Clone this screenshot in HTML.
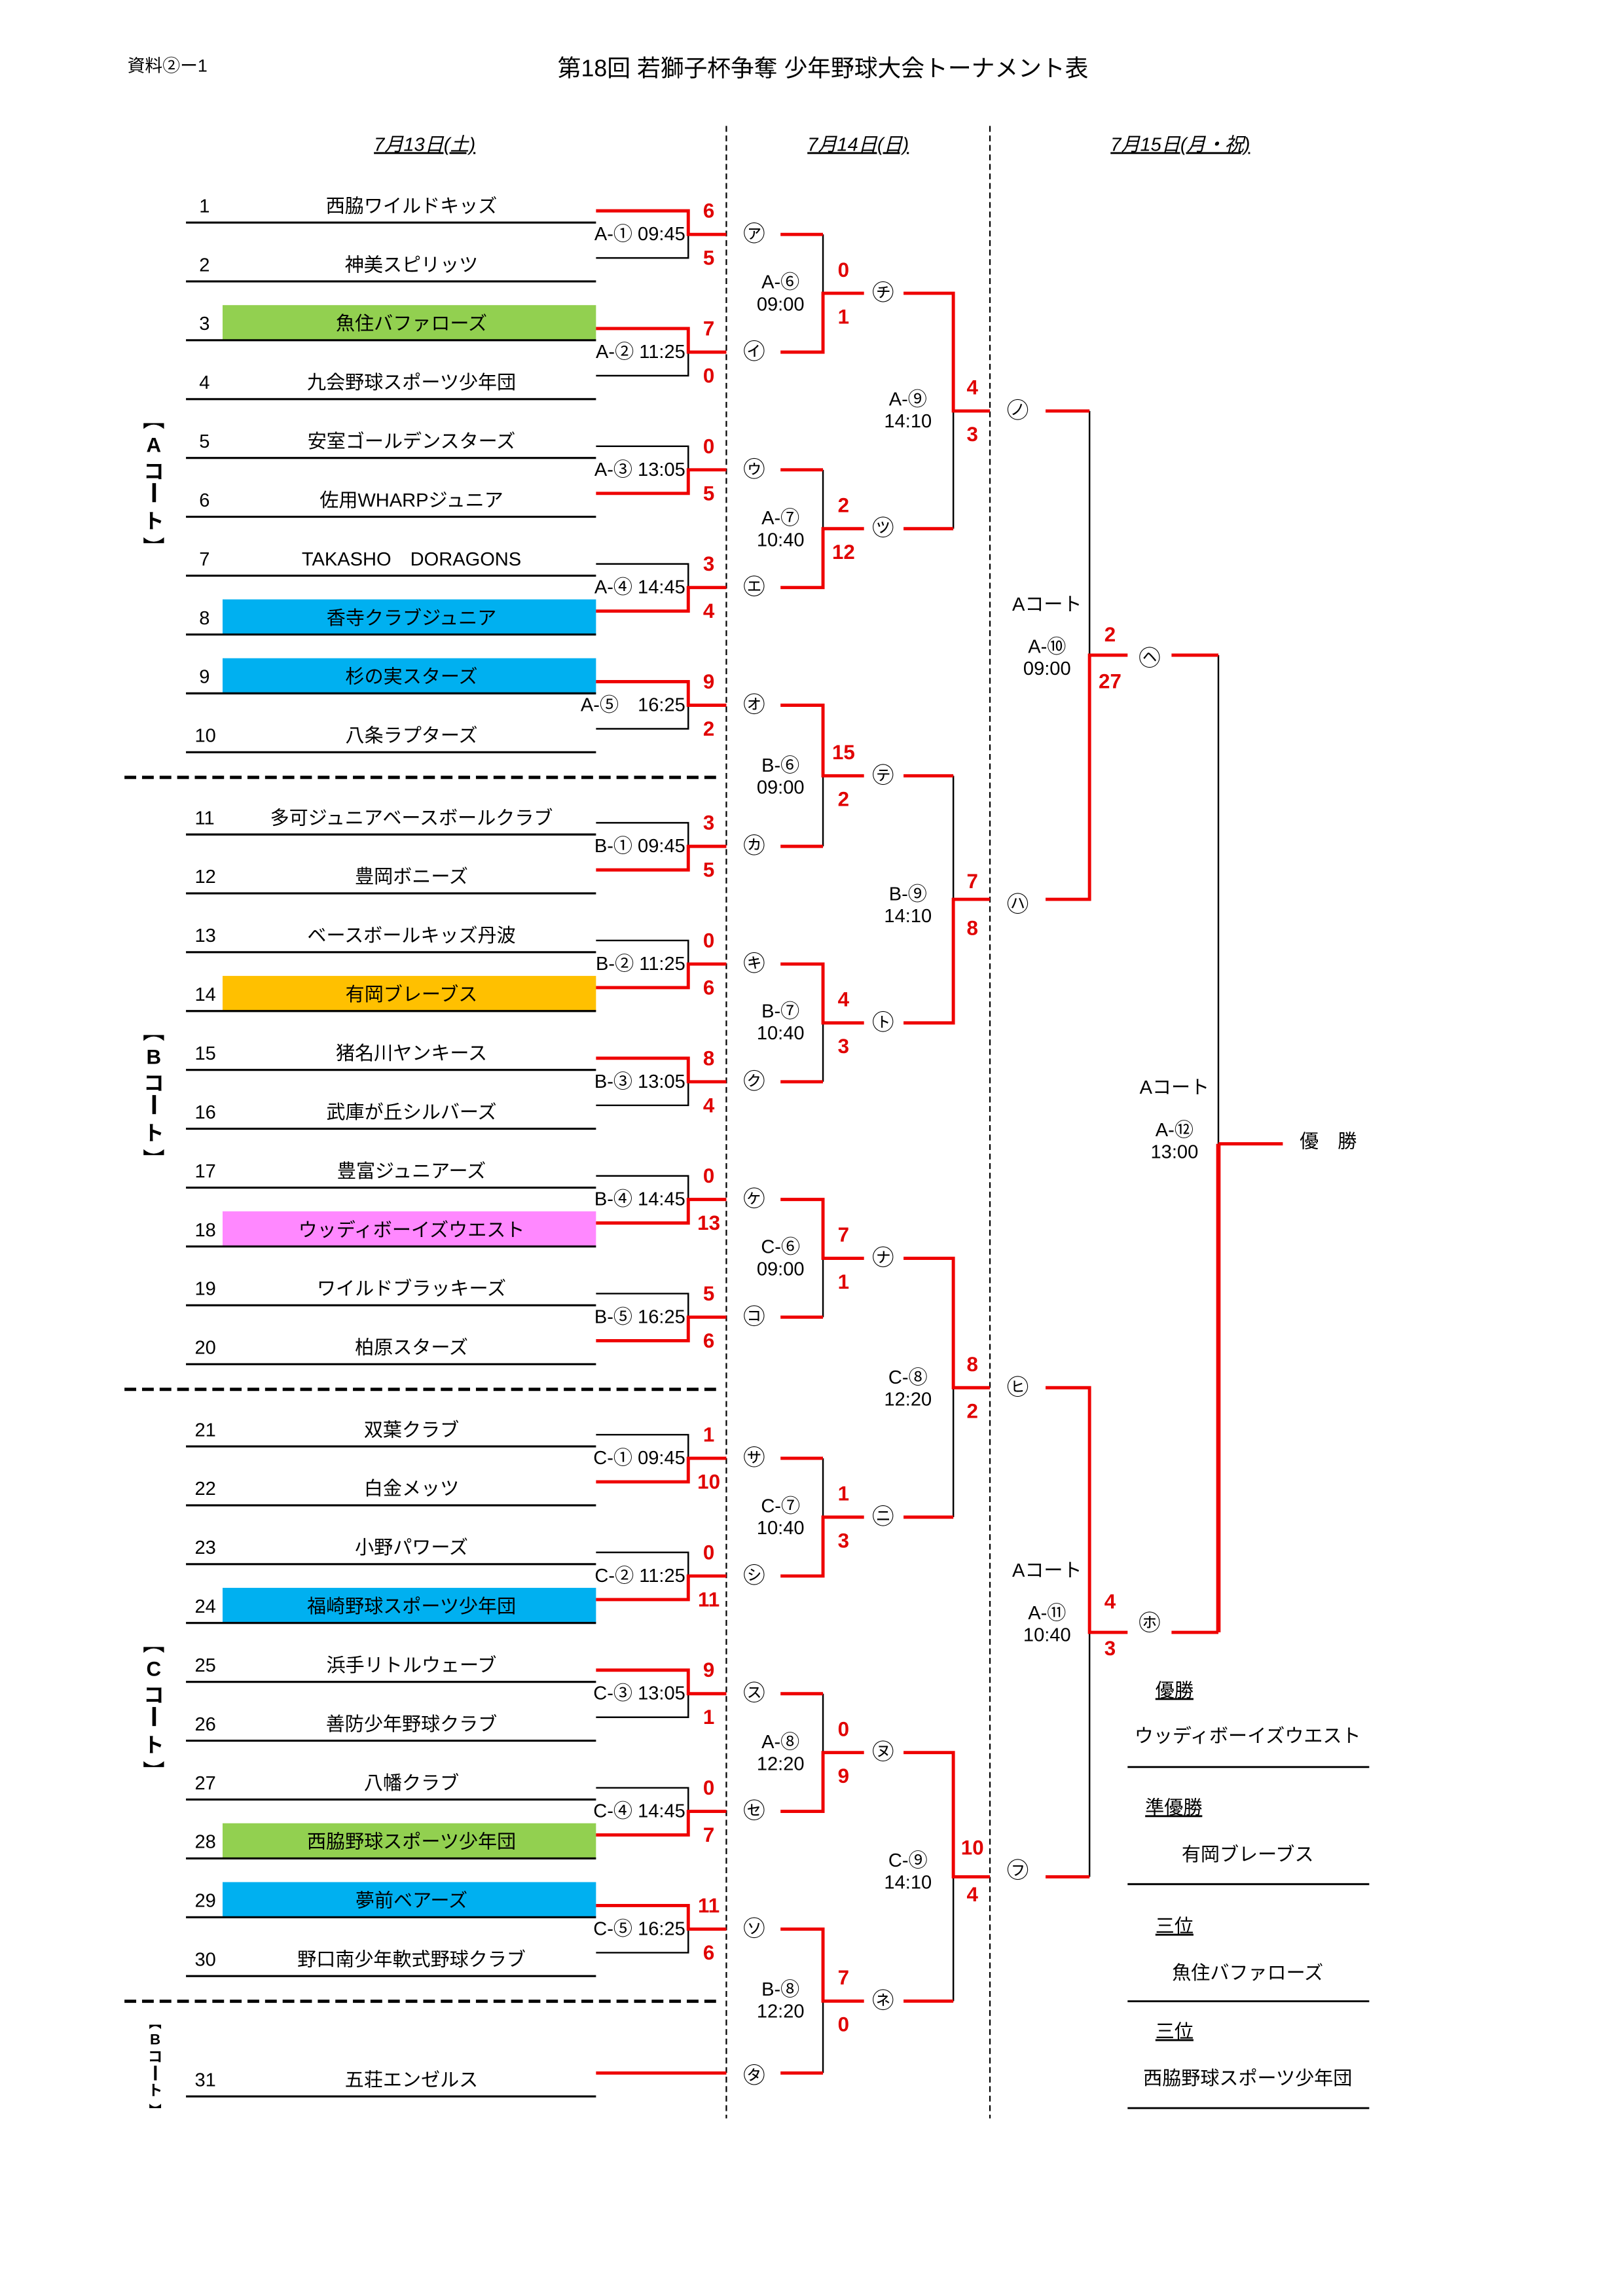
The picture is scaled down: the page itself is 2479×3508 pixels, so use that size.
<!DOCTYPE html>
<html><head><meta charset="utf-8"><style>
html,body{margin:0;padding:0;background:#fff;}
svg{display:block;}
text{font-family:"Liberation Sans","Noto Sans CJK JP",sans-serif;}
.t{font-size:13px;fill:#000;}
.s{font-size:14px;font-weight:bold;fill:#e00000;text-anchor:middle;dominant-baseline:central;}
.c{font-size:15px;fill:#000;text-anchor:middle;dominant-baseline:central;}
.l{font-size:13px;fill:#000;}
.k{stroke:#000;stroke-width:1.1;fill:none;}
.r{stroke:#ee0000;stroke-width:2.2;fill:none;}
.court{font-size:14px;font-weight:bold;text-anchor:middle;dominant-baseline:central;}
</style></head><body>
<svg width="2479" height="3508" viewBox="0 0 1108.3 1568.3" xmlns="http://www.w3.org/2000/svg">
<rect width="1108.3" height="1568.3" fill="#fff"/>
<text x="87" y="49" style="font-size:12px">資料②ー1</text>
<text x="562" y="52" style="font-size:16px" text-anchor="middle">第18回 若獅子杯争奪 少年野球大会トーナメント表</text>
<g style="font-size:13px;font-style:italic" text-anchor="middle" text-decoration="underline">
<text x="290" y="103">7月13日(土)</text>
<text x="586" y="103">7月14日(日)</text>
<text x="806" y="103">7月15日(月・祝)</text>
</g>
<g stroke="#000" stroke-width="1" stroke-dasharray="4,2.5">
<line x1="496" y1="86" x2="496" y2="1447"/>
<line x1="676" y1="86" x2="676" y2="1447"/>
</g>
<g stroke="#000" stroke-width="2.2" stroke-dasharray="8,4">
<line x1="85" y1="531" x2="493" y2="531"/>
<line x1="85" y1="949" x2="493" y2="949"/>
<line x1="85" y1="1367" x2="493" y2="1367"/>
</g>
<rect x="152" y="208.4" width="255" height="24" fill="#92d050"/>
<rect x="152" y="409.4" width="255" height="24" fill="#00b0f0"/>
<rect x="152" y="449.6" width="255" height="24" fill="#00b0f0"/>
<rect x="152" y="666.6" width="255" height="24" fill="#ffc000"/>
<rect x="152" y="827.4" width="255" height="24" fill="#ff88ff"/>
<rect x="152" y="1084.6" width="255" height="24" fill="#00b0f0"/>
<rect x="152" y="1245.4" width="255" height="24" fill="#92d050"/>
<rect x="152" y="1285.6" width="255" height="24" fill="#00b0f0"/>
<g stroke="#000" stroke-width="1.4">
<line x1="127" x2="407" y1="152" y2="152"/><line x1="127" x2="407" y1="192.2" y2="192.2"/>
<line x1="127" x2="407" y1="232.4" y2="232.4"/><line x1="127" x2="407" y1="272.6" y2="272.6"/>
<line x1="127" x2="407" y1="312.8" y2="312.8"/><line x1="127" x2="407" y1="353" y2="353"/>
<line x1="127" x2="407" y1="393.2" y2="393.2"/><line x1="127" x2="407" y1="433.4" y2="433.4"/>
<line x1="127" x2="407" y1="473.6" y2="473.6"/><line x1="127" x2="407" y1="513.8" y2="513.8"/>
<line x1="127" x2="407" y1="570" y2="570"/><line x1="127" x2="407" y1="610.2" y2="610.2"/>
<line x1="127" x2="407" y1="650.4" y2="650.4"/><line x1="127" x2="407" y1="690.6" y2="690.6"/>
<line x1="127" x2="407" y1="730.8" y2="730.8"/><line x1="127" x2="407" y1="771" y2="771"/>
<line x1="127" x2="407" y1="811.2" y2="811.2"/><line x1="127" x2="407" y1="851.4" y2="851.4"/>
<line x1="127" x2="407" y1="891.6" y2="891.6"/><line x1="127" x2="407" y1="931.8" y2="931.8"/>
<line x1="127" x2="407" y1="988" y2="988"/><line x1="127" x2="407" y1="1028.2" y2="1028.2"/>
<line x1="127" x2="407" y1="1068.4" y2="1068.4"/><line x1="127" x2="407" y1="1108.6" y2="1108.6"/>
<line x1="127" x2="407" y1="1148.8" y2="1148.8"/><line x1="127" x2="407" y1="1189" y2="1189"/>
<line x1="127" x2="407" y1="1229.2" y2="1229.2"/><line x1="127" x2="407" y1="1269.4" y2="1269.4"/>
<line x1="127" x2="407" y1="1309.6" y2="1309.6"/><line x1="127" x2="407" y1="1349.8" y2="1349.8"/>
<line x1="127" x2="407" y1="1432" y2="1432"/>
</g>
<g class="t">
<text x="136" y="145">1</text><text x="136" y="185.2">2</text><text x="136" y="225.4">3</text><text x="136" y="265.6">4</text><text x="136" y="305.8">5</text>
<text x="136" y="346">6</text><text x="136" y="386.2">7</text><text x="136" y="426.4">8</text><text x="136" y="466.6">9</text><text x="133" y="506.8">10</text>
<text x="133" y="563">11</text><text x="133" y="603.2">12</text><text x="133" y="643.4">13</text><text x="133" y="683.6">14</text><text x="133" y="723.8">15</text>
<text x="133" y="764">16</text><text x="133" y="804.2">17</text><text x="133" y="844.4">18</text><text x="133" y="884.6">19</text><text x="133" y="924.8">20</text>
<text x="133" y="981">21</text><text x="133" y="1021.2">22</text><text x="133" y="1061.4">23</text><text x="133" y="1101.6">24</text><text x="133" y="1141.8">25</text>
<text x="133" y="1182">26</text><text x="133" y="1222.2">27</text><text x="133" y="1262.4">28</text><text x="133" y="1302.6">29</text><text x="133" y="1342.8">30</text>
<text x="133" y="1425">31</text>
</g>
<g class="t" text-anchor="middle">
<text x="281" y="145">西脇ワイルドキッズ</text>
<text x="281" y="185.2">神美スピリッツ</text>
<text x="281" y="225.4">魚住バファローズ</text>
<text x="281" y="265.6">九会野球スポーツ少年団</text>
<text x="281" y="305.8">安室ゴールデンスターズ</text>
<text x="281" y="346">佐用WHARPジュニア</text>
<text x="281" y="386.2">TAKASHO　DORAGONS</text>
<text x="281" y="426.4">香寺クラブジュニア</text>
<text x="281" y="466.6">杉の実スターズ</text>
<text x="281" y="506.8">八条ラプターズ</text>
<text x="281" y="563">多可ジュニアベースボールクラブ</text>
<text x="281" y="603.2">豊岡ボニーズ</text>
<text x="281" y="643.4">ベースボールキッズ丹波</text>
<text x="281" y="683.6">有岡ブレーブス</text>
<text x="281" y="723.8">猪名川ヤンキース</text>
<text x="281" y="764">武庫が丘シルバーズ</text>
<text x="281" y="804.2">豊富ジュニアーズ</text>
<text x="281" y="844.4">ウッディボーイズウエスト</text>
<text x="281" y="884.6">ワイルドブラッキーズ</text>
<text x="281" y="924.8">柏原スターズ</text>
<text x="281" y="981">双葉クラブ</text>
<text x="281" y="1021.2">白金メッツ</text>
<text x="281" y="1061.4">小野パワーズ</text>
<text x="281" y="1101.6">福崎野球スポーツ少年団</text>
<text x="281" y="1141.8">浜手リトルウェーブ</text>
<text x="281" y="1182">善防少年野球クラブ</text>
<text x="281" y="1222.2">八幡クラブ</text>
<text x="281" y="1262.4">西脇野球スポーツ少年団</text>
<text x="281" y="1302.6">夢前ベアーズ</text>
<text x="281" y="1342.8">野口南少年軟式野球クラブ</text>
<text x="281" y="1425">五荘エンゼルス</text>
</g>
<path class="k" d="M407 176.2H470V160.1 M407 256.6H470V240.5 M407 304.8H470V320.9 M407 385.2H470V401.3 M407 497.8H470V481.7
M407 562H470V578.1 M407 642.4H470V658.5 M407 755H470V738.9 M407 803.2H470V819.3 M407 883.6H470V899.7
M407 980H470V996.1 M407 1060.4H470V1076.5 M407 1173H470V1156.9 M407 1221.2H470V1237.3 M407 1333.8H470V1317.7
M562 160.1V200.3 M562 320.9V361.1 M562 578.1V529.9 M562 738.9V698.7 M562 899.7V859.5 M562 996.1V1036.3 M562 1156.9V1197.1 M562 1416V1366.9
M651 361.1V280.7 M651 529.9V614.3 M651 1036.3V947.9 M651 1366.9V1282
M744 280.7V447.5 M744 1282V1115 M832 447.5V781.3"/>
<path class="r" d="M407 144H470V160.1H496 M407 224.4H470V240.5H496 M407 337H470V320.9H496 M407 417.4H470V401.3H496 M407 465.6H470V481.7H496
M407 594.2H470V578.1H496 M407 674.6H470V658.5H496 M407 722.8H470V738.9H496 M407 835.4H470V819.3H496 M407 915.8H470V899.7H496
M407 1012.2H470V996.1H496 M407 1092.6H470V1076.5H496 M407 1140.8H470V1156.9H496 M407 1253.4H470V1237.3H496 M407 1301.6H470V1317.7H496
M407 1416H496
M533 160.1H562 M533 240.5H562V200.3H590 M533 320.9H562 M533 401.3H562V361.1H590
M533 578.1H562 M533 481.7H562V529.9H590 M533 738.9H562 M533 658.5H562V698.7H590
M533 899.7H562 M533 819.3H562V859.5H590 M533 996.1H562 M533 1076.5H562V1036.3H590
M533 1156.9H562 M533 1237.3H562V1197.1H590 M533 1416H562 M533 1317.7H562V1366.9H590
M617 361.1H651 M617 200.3H651V280.7H676 M617 529.9H651 M617 698.7H651V614.3H676
M617 1036.3H651 M617 859.5H651V947.9H676 M617 1366.9H651 M617 1197.1H651V1282H676
M714 280.7H744 M714 614.3H744V447.5H770 M714 1282H744 M714 947.9H744V1115H770
M800 447.5H832 M800 1115H832 M832 781.3H876"/>
<path stroke="#ee0000" stroke-width="3" fill="none" d="M832 1115V781.3"/>
<g class="s">
<text x="484" y="144">6</text><text x="484" y="176.2">5</text>
<text x="484" y="224.4">7</text><text x="484" y="256.6">0</text>
<text x="484" y="304.8">0</text><text x="484" y="337">5</text>
<text x="484" y="385.2">3</text><text x="484" y="417.4">4</text>
<text x="484" y="465.6">9</text><text x="484" y="497.8">2</text>
<text x="484" y="562">3</text><text x="484" y="594.2">5</text>
<text x="484" y="642.4">0</text><text x="484" y="674.6">6</text>
<text x="484" y="722.8">8</text><text x="484" y="755">4</text>
<text x="484" y="803.2">0</text><text x="484" y="835.4">13</text>
<text x="484" y="883.6">5</text><text x="484" y="915.8">6</text>
<text x="484" y="980">1</text><text x="484" y="1012.2">10</text>
<text x="484" y="1060.4">0</text><text x="484" y="1092.6">11</text>
<text x="484" y="1140.8">9</text><text x="484" y="1173">1</text>
<text x="484" y="1221.2">0</text><text x="484" y="1253.4">7</text>
<text x="484" y="1301.6">11</text><text x="484" y="1333.8">6</text>
<text x="576" y="184.3">0</text><text x="576" y="216.3">1</text>
<text x="576" y="345.1">2</text><text x="576" y="377.1">12</text>
<text x="576" y="513.9">15</text><text x="576" y="545.9">2</text>
<text x="576" y="682.7">4</text><text x="576" y="714.7">3</text>
<text x="576" y="843.5">7</text><text x="576" y="875.5">1</text>
<text x="576" y="1020.3">1</text><text x="576" y="1052.3">3</text>
<text x="576" y="1181.1">0</text><text x="576" y="1213.1">9</text>
<text x="576" y="1350.9">7</text><text x="576" y="1382.9">0</text>
<text x="664" y="264.7">4</text><text x="664" y="296.7">3</text>
<text x="664" y="602">7</text><text x="664" y="634">8</text>
<text x="664" y="931.9">8</text><text x="664" y="963.9">2</text>
<text x="664" y="1262">10</text><text x="664" y="1294">4</text>
<text x="758" y="433.5">2</text><text x="758" y="465.5">27</text>
<text x="758" y="1094">4</text><text x="758" y="1126">3</text>
</g>
<g class="l" text-anchor="end" dominant-baseline="central">
<text x="468" y="160.1">A-① 09:45</text><text x="468" y="240.5">A-② 11:25</text>
<text x="468" y="320.9">A-③ 13:05</text><text x="468" y="401.3">A-④ 14:45</text>
<text x="468" y="481.7">A-⑤　16:25</text>
<text x="468" y="578.1">B-① 09:45</text><text x="468" y="658.5">B-② 11:25</text>
<text x="468" y="738.9">B-③ 13:05</text><text x="468" y="819.3">B-④ 14:45</text>
<text x="468" y="899.7">B-⑤ 16:25</text>
<text x="468" y="996.1">C-① 09:45</text><text x="468" y="1076.5">C-② 11:25</text>
<text x="468" y="1156.9">C-③ 13:05</text><text x="468" y="1237.3">C-④ 14:45</text>
<text x="468" y="1317.7">C-⑤ 16:25</text>
</g>
<g class="l" text-anchor="middle" dominant-baseline="central">
<text x="533" y="193">A-⑥</text><text x="533" y="208">09:00</text>
<text x="533" y="354">A-⑦</text><text x="533" y="369">10:40</text>
<text x="533" y="523">B-⑥</text><text x="533" y="538">09:00</text>
<text x="533" y="691">B-⑦</text><text x="533" y="706">10:40</text>
<text x="533" y="852">C-⑥</text><text x="533" y="867">09:00</text>
<text x="533" y="1029">C-⑦</text><text x="533" y="1044">10:40</text>
<text x="533" y="1190">A-⑧</text><text x="533" y="1205">12:20</text>
<text x="533" y="1359">B-⑧</text><text x="533" y="1374">12:20</text>
<text x="620" y="273">A-⑨</text><text x="620" y="288">14:10</text>
<text x="620" y="611">B-⑨</text><text x="620" y="626">14:10</text>
<text x="620" y="941">C-⑧</text><text x="620" y="956">12:20</text>
<text x="620" y="1271">C-⑨</text><text x="620" y="1286">14:10</text>
<text x="715" y="413">Aコート</text><text x="715" y="442">A-⑩</text><text x="715" y="457">09:00</text>
<text x="715" y="1073">Aコート</text><text x="715" y="1102">A-⑪</text><text x="715" y="1117">10:40</text>
<text x="802" y="743">Aコート</text><text x="802" y="772">A-⑫</text><text x="802" y="787">13:00</text>
<text x="907" y="780">優　勝</text>
</g>
<g class="c">
<text x="515" y="160.1">㋐</text><text x="515" y="240.5">㋑</text><text x="515" y="320.9">㋒</text><text x="515" y="401.3">㋓</text><text x="515" y="481.7">㋔</text>
<text x="515" y="578.1">㋕</text><text x="515" y="658.5">㋖</text><text x="515" y="738.9">㋗</text><text x="515" y="819.3">㋘</text><text x="515" y="899.7">㋙</text>
<text x="515" y="996.1">㋚</text><text x="515" y="1076.5">㋛</text><text x="515" y="1156.9">㋜</text><text x="515" y="1237.3">㋝</text><text x="515" y="1317.7">㋞</text>
<text x="515" y="1418">㋟</text>
<text x="603" y="200.3">㋠</text><text x="603" y="361.1">㋡</text><text x="603" y="529.9">㋢</text><text x="603" y="698.7">㋣</text>
<text x="603" y="859.5">㋤</text><text x="603" y="1036.3">㋥</text><text x="603" y="1197.1">㋦</text><text x="603" y="1366.9">㋧</text>
<text x="695" y="280.7">㋨</text><text x="695" y="618">㋩</text><text x="695" y="947.9">㋪</text><text x="695" y="1278">㋫</text>
<text x="785" y="450">㋬</text><text x="785" y="1109">㋭</text>
</g>
<g class="l">
<text x="789" y="1159" text-decoration="underline">優勝</text>
<text x="852" y="1190" text-anchor="middle">ウッディボーイズウエスト</text>
<text x="782" y="1239" text-decoration="underline">準優勝</text>
<text x="852" y="1271" text-anchor="middle">有岡ブレーブス</text>
<text x="789" y="1320" text-decoration="underline">三位</text>
<text x="852" y="1352" text-anchor="middle">魚住バファローズ</text>
<text x="789" y="1392" text-decoration="underline">三位</text>
<text x="852" y="1424" text-anchor="middle">西脇野球スポーツ少年団</text>
</g>
<g stroke="#000" stroke-width="1.3">
<line x1="770" x2="935" y1="1207" y2="1207"/>
<line x1="770" x2="935" y1="1287" y2="1287"/>
<line x1="770" x2="935" y1="1367" y2="1367"/>
<line x1="770" x2="935" y1="1440" y2="1440"/>
</g>
<g>
<path d="M98 293 Q105 287 112 293 V289 H98 Z" fill="#000"/>
<text class="court" x="105" y="304">A</text>
<text class="court" x="105" y="322">コ</text>
<rect x="104" y="330" width="2.5" height="13" fill="#000"/>
<text class="court" x="105" y="356">ト</text>
<path d="M98 367 Q105 373 112 367 V371 H98 Z" fill="#000"/>
</g>
<g transform="translate(0,418)">
<path d="M98 293 Q105 287 112 293 V289 H98 Z" fill="#000"/>
<text class="court" x="105" y="304">B</text>
<text class="court" x="105" y="322">コ</text>
<rect x="104" y="330" width="2.5" height="13" fill="#000"/>
<text class="court" x="105" y="356">ト</text>
<path d="M98 367 Q105 373 112 367 V371 H98 Z" fill="#000"/>
</g>
<g transform="translate(0,836)">
<path d="M98 293 Q105 287 112 293 V289 H98 Z" fill="#000"/>
<text class="court" x="105" y="304">C</text>
<text class="court" x="105" y="322">コ</text>
<rect x="104" y="330" width="2.5" height="13" fill="#000"/>
<text class="court" x="105" y="356">ト</text>
<path d="M98 367 Q105 373 112 367 V371 H98 Z" fill="#000"/>
</g>
<g>
<path d="M102 1386 Q106 1382 110 1386 V1383 H102 Z" fill="#000"/>
<text class="court" style="font-size:10px" x="106" y="1393">B</text>
<text class="court" style="font-size:10px" x="106" y="1405">コ</text>
<rect x="105.2" y="1411" width="1.8" height="10" fill="#000"/>
<text class="court" style="font-size:10px" x="106" y="1428">ト</text>
<path d="M102 1437 Q106 1441 110 1437 V1440 H102 Z" fill="#000"/>
</g>
</svg>
</body></html>
